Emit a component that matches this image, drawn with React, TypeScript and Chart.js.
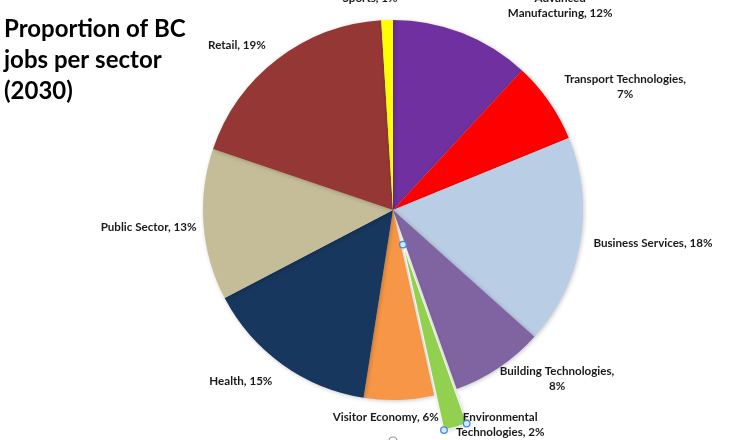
import React, { useEffect, useRef } from "react";
import { Chart, registerables } from "chart.js";

Chart.register(...registerables);

// ---- data ----
const categories = [
  "Advanced Manufacturing",
  "Transport Technologies",
  "Business Services",
  "Building Technologies",
  "Environmental Technologies",
  "Visitor Economy",
  "Health",
  "Public Sector",
  "Retail",
  "Sports",
];
const shares = [12, 7, 18, 8, 2, 6, 15, 13, 19, 1];
const labelLines = [
  ["Advanced", "Manufacturing, 12%"],
  ["Transport Technologies,", "7%"],
  ["Business Services, 18%"],
  ["Building Technologies,", "8%"],
  ["Environmental", "Technologies, 2%"],
  ["Visitor Economy, 6%"],
  ["Health, 15%"],
  ["Public Sector, 13%"],
  ["Retail, 19%"],
  ["Sports, 1%"],
];
const titleLines = ["Proportion of BC", "jobs per sector", "(2030)"];

// ---- styles / layout ----
const colors = [
  "#7030A0",
  "#FF0000",
  "#B9CDE5",
  "#8064A2",
  "#92D050",
  "#F79646",
  "#17375E",
  "#C4BD97",
  "#953735",
  "#FFFF00",
];
const explodeDistance = 36; // px the selected slice is pulled out
const selectedIndex = 4;
// [angle shift from slice middle (deg), distance from pie centre (px)]
const labelLayout: [number, number][] = [
  [17.9, 264],
  [6.7, 263],
  [-2.6, 262],
  [-10.4, 235],
  [-10.5, 240],
  [3.8, 207],
  [6, 229],
  [0.5, 245],
  [-6, 227],
  [-4.4, 213],
];

function explodedGeometry(chart: any) {
  const meta = chart.getDatasetMeta(0);
  const sa = meta.data[selectedIndex].getProps(["x", "y", "startAngle", "endAngle", "outerRadius"], true);
  const m = (sa.startAngle + sa.endAngle) / 2;
  return {
    ...sa,
    ox: sa.x + Math.cos(m) * explodeDistance,
    oy: sa.y + Math.sin(m) * explodeDistance,
  };
}

const labelPlugin = {
  id: "sliceLabels",
  beforeDatasetsDraw(chart: any) {
    const ctx = chart.ctx;
    ctx.save();
    ctx.shadowColor = "rgba(0,0,0,0.22)";
    ctx.shadowBlur = 4;
    ctx.shadowOffsetX = 1;
    ctx.shadowOffsetY = 1;
  },
  afterDatasetsDraw(chart: any) {
    const ctx = chart.ctx;
    // exploded slice, drawn from the arc's own geometry
    const g = explodedGeometry(chart);
    ctx.beginPath();
    ctx.moveTo(g.ox, g.oy);
    ctx.arc(g.ox, g.oy, g.outerRadius, g.startAngle, g.endAngle);
    ctx.closePath();
    ctx.fillStyle = colors[selectedIndex];
    ctx.fill();
    ctx.restore();
    ctx.save();
    ctx.strokeStyle = "rgba(255,255,255,0.85)";
    ctx.lineWidth = 1;
    ctx.stroke();
    ctx.restore();
  },
  afterDraw(chart: any) {
    const ctx = chart.ctx;
    const meta = chart.getDatasetMeta(0);
    ctx.save();
    ctx.fillStyle = "#1a1a1a";
    ctx.font = "bold 11.6px Lato";
    ctx.textAlign = "center";
    ctx.textBaseline = "middle";
    const lh = 15;
    meta.data.forEach((arc: any, i: number) => {
      const p = arc.getProps(["x", "y", "startAngle", "endAngle"], true);
      const mid = (p.startAngle + p.endAngle) / 2 + (labelLayout[i][0] * Math.PI) / 180;
      const r = labelLayout[i][1];
      const cx = p.x + Math.cos(mid) * r;
      const cy = p.y + Math.sin(mid) * r;
      const lines = labelLines[i];
      const y0 = cy - ((lines.length - 1) * lh) / 2;
      lines.forEach((t, k) => ctx.fillText(t, cx, y0 + k * lh));
    });

    // selection handles on the exploded slice
    const g = explodedGeometry(chart);
    const pts = [
      [g.ox, g.oy],
      [g.ox + Math.cos(g.startAngle) * g.outerRadius, g.oy + Math.sin(g.startAngle) * g.outerRadius],
      [g.ox + Math.cos(g.endAngle) * g.outerRadius, g.oy + Math.sin(g.endAngle) * g.outerRadius],
    ];
    ctx.lineWidth = 1.3;
    pts.forEach(([hx, hy]) => {
      ctx.beginPath();
      ctx.arc(hx, hy, 3.3, 0, Math.PI * 2);
      ctx.fillStyle = "#d6e8fa";
      ctx.fill();
      ctx.strokeStyle = "#3d8de0";
      ctx.stroke();
    });
    // plot-area handle at the bottom edge
    ctx.beginPath();
    ctx.arc(g.x, chart.height + 1, 4, 0, Math.PI * 2);
    ctx.strokeStyle = "#9a9a9a";
    ctx.lineWidth = 1.2;
    ctx.stroke();

    // title
    ctx.fillStyle = "#000";
    ctx.font = "bold 24px Lato";
    ctx.textAlign = "left";
    ctx.textBaseline = "alphabetic";
    titleLines.forEach((t, k) => ctx.fillText(t, 4, 37 + k * 31));
    ctx.restore();
  },
};

export default function App() {
  const ref = useRef<HTMLCanvasElement | null>(null);
  useEffect(() => {
    if (!ref.current) return;
    const chart = new Chart(ref.current, {
      type: "pie",
      data: {
        labels: categories,
        datasets: [
          {
            data: shares,
            backgroundColor: (c: any) =>
              c.dataIndex === selectedIndex ? "rgba(0,0,0,0)" : colors[c.dataIndex],
            borderWidth: 0,
            radius: 190,
          } as any,
        ],
      },
      options: {
        responsive: false,
        animation: false,
        layout: { padding: { left: 43, right: 0, top: 0, bottom: 20 } },
        plugins: {
          legend: { display: false },
          tooltip: { enabled: false },
          title: { display: false },
        },
      },
      plugins: [labelPlugin],
    });
    return () => chart.destroy();
  }, []);
  return (
    <div style={{ position: "fixed", left: 0, top: 0, width: 743, height: 440, background: "#fff" }}>
      <canvas ref={ref} width={743} height={440} style={{ width: 743, height: 440 }} />
    </div>
  );
}
